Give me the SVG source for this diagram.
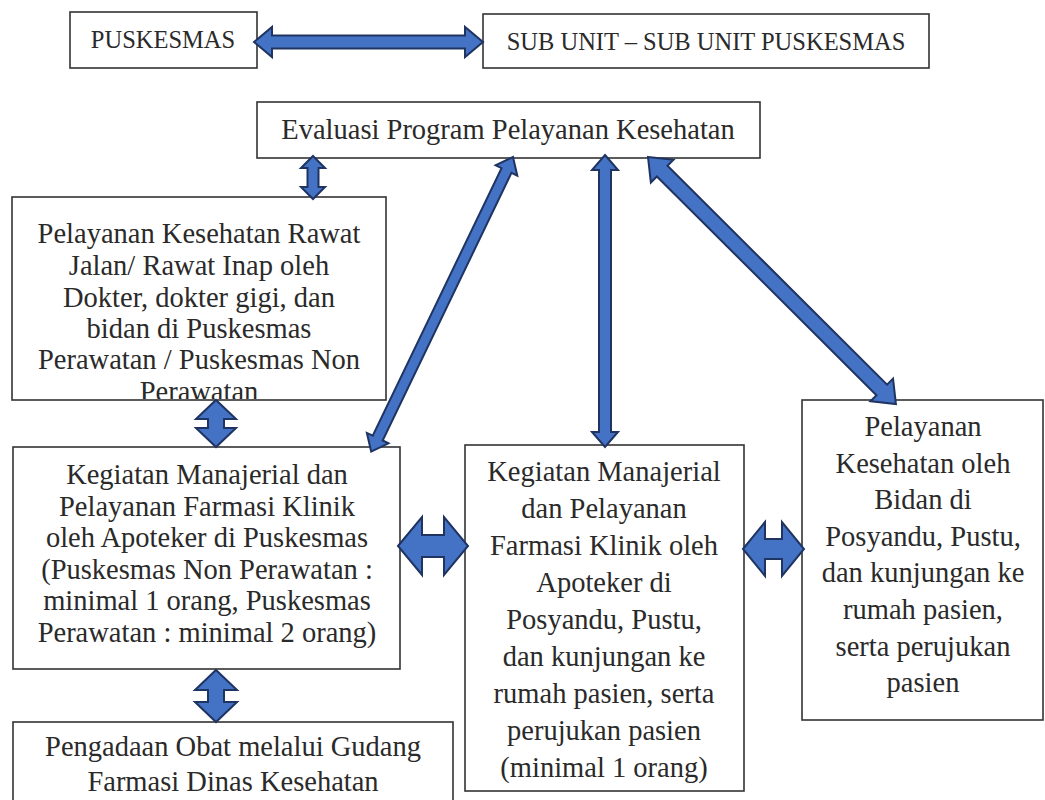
<svg xmlns="http://www.w3.org/2000/svg" width="1045" height="800" viewBox="0 0 1045 800">
<style>
.box{fill:#fff;stroke:#333;stroke-width:1.6}
.t{font-family:"Liberation Serif","Times New Roman",serif;font-size:28.5px;fill:#2a2a2a;text-anchor:middle}
.ts{font-family:"Liberation Serif","Times New Roman",serif;font-size:24.5px;fill:#2a2a2a;text-anchor:middle}
.arr{fill:#4472C4;stroke:#1F3461;stroke-width:2;stroke-linejoin:miter}
</style>
<defs>
<clipPath id="clipA"><rect x="12" y="197" width="374" height="202"/></clipPath>
</defs>
<rect width="1045" height="800" fill="#fff"/>

<g id="puskesmas">
<rect class="box" x="70" y="12" width="187" height="56"/>
<text class="ts" x="163" y="48">PUSKESMAS</text>
</g>

<g id="subunit">
<rect class="box" x="483" y="14" width="446" height="54"/>
<text class="ts" x="706" y="50">SUB UNIT – SUB UNIT PUSKESMAS</text>
</g>

<g id="evaluasi">
<rect class="box" x="257" y="102" width="503" height="56"/>
<text class="t" x="508" y="139">Evaluasi Program Pelayanan Kesehatan</text>
</g>

<g id="rawat">
<rect class="box" x="12" y="197" width="374" height="203"/>
<g clip-path="url(#clipA)">
<text class="t" x="199" y="243">Pelayanan Kesehatan Rawat</text>
<text class="t" x="199" y="275">Jalan/ Rawat Inap oleh</text>
<text class="t" x="199" y="307">Dokter, dokter gigi, dan</text>
<text class="t" x="199" y="338">bidan di Puskesmas</text>
<text class="t" x="199" y="369">Perawatan / Puskesmas Non</text>
<text class="t" x="199" y="401">Perawatan</text>
</g>
</g>

<g id="farmasi-puskesmas">
<rect class="box" x="13" y="447" width="387" height="222"/>
<text class="t" x="207" y="484">Kegiatan Manajerial dan</text>
<text class="t" x="207" y="515.6">Pelayanan Farmasi Klinik</text>
<text class="t" x="207" y="547.2">oleh Apoteker di Puskesmas</text>
<text class="t" x="207" y="578.8">(Puskesmas Non Perawatan :</text>
<text class="t" x="207" y="610.4">minimal 1 orang, Puskesmas</text>
<text class="t" x="207" y="642">Perawatan : minimal 2 orang)</text>
</g>

<g id="pengadaan">
<rect class="box" x="13" y="722" width="440" height="90"/>
<text class="t" x="233" y="756">Pengadaan Obat melalui Gudang</text>
<text class="t" x="233" y="791">Farmasi Dinas Kesehatan</text>
</g>

<g id="farmasi-posyandu">
<rect class="box" x="465" y="445" width="279" height="346"/>
<text class="t" x="604" y="481">Kegiatan Manajerial</text>
<text class="t" x="604" y="518">dan Pelayanan</text>
<text class="t" x="604" y="555">Farmasi Klinik oleh</text>
<text class="t" x="604" y="592">Apoteker di</text>
<text class="t" x="604" y="629">Posyandu, Pustu,</text>
<text class="t" x="604" y="666">dan kunjungan ke</text>
<text class="t" x="604" y="703">rumah pasien, serta</text>
<text class="t" x="604" y="740">perujukan pasien</text>
<text class="t" x="604" y="777">(minimal 1 orang)</text>
</g>

<g id="bidan">
<rect class="box" x="802" y="400" width="241" height="320"/>
<text class="t" x="923" y="436">Pelayanan</text>
<text class="t" x="923" y="472.6">Kesehatan oleh</text>
<text class="t" x="923" y="509">Bidan di</text>
<text class="t" x="923" y="546">Posyandu, Pustu,</text>
<text class="t" x="923" y="582.4">dan kunjungan ke</text>
<text class="t" x="923" y="619">rumah pasien,</text>
<text class="t" x="923" y="655.6">serta perujukan</text>
<text class="t" x="923" y="692">pasien</text>
</g>

<g id="connectors">
<polygon class="arr" transform="translate(254,42)" points="0,0 18,-15 18,-6.5 211,-6.5 211,-15 229,0 211,15 211,6.5 18,6.5 18,15"/>
<polygon class="arr" transform="translate(313,156) rotate(90)" points="0,0 12,-12 12,-5.5 31,-5.5 31,-12 43,0 31,12 31,5.5 12,5.5 12,12"/>
<polygon class="arr" transform="translate(216,400) rotate(90)" points="0,0 19,-20 19,-8 28,-8 28,-20 47,0 28,20 28,8 19,8 19,20"/>
<polygon class="arr" transform="translate(216,670) rotate(90)" points="0,0 20,-21 20,-8 32,-8 32,-21 52,0 32,21 32,8 20,8 20,21"/>
<polygon class="arr" transform="translate(398,546)" points="0,0 24,-29 24,-11 46,-11 46,-29 70,0 46,29 46,11 24,11 24,29"/>
<polygon class="arr" transform="translate(743,549)" points="0,0 22,-27 22,-10 39,-10 39,-27 61,0 39,27 39,10 22,10 22,27"/>
<polygon class="arr" transform="translate(513,157) rotate(115.7)" points="0,0 15,-12 15,-5.5 312,-5.5 312,-12 327,0 312,12 312,5.5 15,5.5 15,12"/>
<polygon class="arr" transform="translate(605,155) rotate(90)" points="0,0 15,-13 15,-6 277,-6 277,-13 292,0 277,13 277,6 15,6 15,13"/>
<polygon class="arr" transform="translate(648,157) rotate(44.9)" points="0,0 20,-16 20,-7.5 330,-7.5 330,-16 350,0 330,16 330,7.5 20,7.5 20,16"/>
</g>
</svg>
